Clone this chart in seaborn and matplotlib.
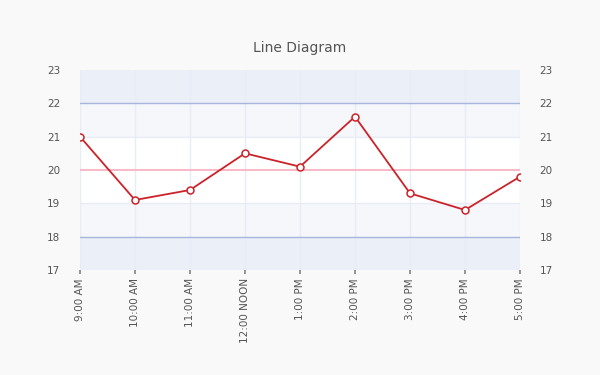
import matplotlib
matplotlib.use("Agg")
import matplotlib.pyplot as plt
import seaborn as sns
import pandas as pd

times = ["9:00 AM", "10:00 AM", "11:00 AM", "12:00 NOON", "1:00 PM",
         "2:00 PM", "3:00 PM", "4:00 PM", "5:00 PM"]
values = [21.0, 19.1, 19.4, 20.5, 20.1, 21.6, 19.3, 18.8, 19.8]
y_ticks = [17, 18, 19, 20, 21, 22, 23]

sns.set_theme(style="white")
plt.rcParams['font.family'] = ['DejaVu Sans']

df = pd.DataFrame({"idx": range(len(times)), "value": values})

fig = plt.figure(figsize=(6, 3.75), dpi=100, facecolor="#f9f9f9")
ax = fig.add_axes([80/600, 1-270/375, 440/600, 200/375])
ax.set_facecolor("white")

# bands
ax.axhspan(17, 18, color="#ebeff7", zorder=0, lw=0)
ax.axhspan(18, 19, color="#f5f7fb", zorder=0, lw=0)
ax.axhspan(21, 22, color="#f5f7fb", zorder=0, lw=0)
ax.axhspan(22, 23, color="#ebeff7", zorder=0, lw=0)

for i in range(len(times)):
    ax.axvline(i, color="#e8ecf6", lw=1, zorder=1)
for y in [19, 21]:
    ax.axhline(y, color="#e8ecf6", lw=1, zorder=1)
for y in [18, 22]:
    ax.axhline(y, color="#a7b5da", lw=1, zorder=2)
ax.axhline(20, color="#f8bac6", lw=1.5, zorder=2)

sns.lineplot(data=df, x="idx", y="value", ax=ax, color="#cc2229", lw=1.3,
             marker="o", markersize=5, markerfacecolor="white",
             markeredgecolor="#cc2229", markeredgewidth=1.1, zorder=5)

ax.set_xlim(0, len(times) - 1)
ax.set_ylim(17, 23)
ax.set_xticks(range(len(times)))
ax.set_xticklabels(times, rotation=90, fontsize=7.5, color="#555555")
ax.set_yticks(y_ticks)
ax.set_yticklabels([str(v) for v in y_ticks], fontsize=7.5, color="#555555")
ax.set_xlabel("")
ax.set_ylabel("")
for s in ax.spines.values():
    s.set_visible(False)
ax.tick_params(axis="x", length=3, color="#888888", pad=3, bottom=True)
ax.tick_params(axis="y", length=0, pad=14)

ax2 = ax.twinx()
ax2.set_ylim(17, 23)
ax2.set_yticks(y_ticks)
ax2.set_yticklabels([str(v) for v in y_ticks], fontsize=7.5, color="#555555")
ax2.tick_params(axis="y", length=0, pad=14)
for s in ax2.spines.values():
    s.set_visible(False)

fig.text(0.5, 1 - 48/375, "Line Diagram", ha="center", va="center",
         fontsize=10, color="#555555")

fig.savefig("out.png", dpi=100, facecolor="#f9f9f9")
